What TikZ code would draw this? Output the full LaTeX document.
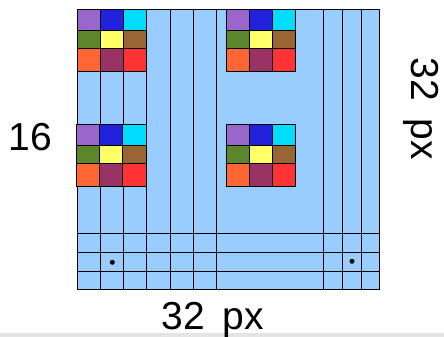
\documentclass[tikz,border=0pt]{standalone}
\usepackage{fontspec}
\setmainfont{Liberation Sans}
\definecolor{paneblue}{HTML}{99CCFF}
\definecolor{swA}{HTML}{9966CC}
\definecolor{swB}{HTML}{2222DD}
\definecolor{swC}{HTML}{00DDFF}
\definecolor{swD}{HTML}{5B862A}
\definecolor{swE}{HTML}{FFFF66}
\definecolor{swF}{HTML}{996633}
\definecolor{swG}{HTML}{FF6633}
\definecolor{swH}{HTML}{993366}
\definecolor{swI}{HTML}{FF3333}
\definecolor{bandgray}{HTML}{E4E4E4}
\tikzset{
  gridline/.style={draw=black, line width=0.9pt},
  lbl/.style={font=\fontsize{39}{41}\selectfont, inner sep=0pt},
  pics/swatch/.style={code={
    \foreach \c [count=\i from 0] in {swA,swB,swC}
      \fill[\c] ({23.1*\i},0) rectangle ({23.1*(\i+1)},20.7);
    \foreach \c [count=\i from 0] in {swD,swE,swF}
      \fill[\c] ({23.1*\i},20.7) rectangle ({23.1*(\i+1)},39);
    \foreach \c [count=\i from 0] in {swG,swH,swI}
      \fill[\c] ({23.1*\i},39) rectangle ({23.1*(\i+1)},62);
    \draw[gridline] (0,0) rectangle (69.3,62);
    \draw[gridline] (23.1,0) -- (23.1,62) (46.2,0) -- (46.2,62)
                    (0,20.7) -- (69.3,20.7) (0,39) -- (69.3,39);
  }}
}
\begin{document}
\begin{tikzpicture}[x=1pt,y=-1pt]
\useasboundingbox (0,0) rectangle (444,337);
\fill[bandgray] (0,332.5) rectangle (444,337);
% pane
\fill[paneblue] (77,9) rectangle (379.5,289);
\foreach \x in {100.3,123.3,146.7,170,193.3,216.7,323.3,342.3,361}
  \draw[gridline] (\x,9) -- (\x,289);
\foreach \y in {233.7,252.3,271}
  \draw[gridline] (77,\y) -- (379.5,\y);
\draw[gridline] (77,9) rectangle (379.5,289);
% swatches
\pic at (77,9.3) {swatch};
\pic at (226,9.3) {swatch};
\pic at (76.7,124.3) {swatch};
\pic at (226,124.3) {swatch};
% dots
\fill (112.3,262.3) circle[radius=2.5pt];
\fill (352,261.3) circle[radius=2.5pt];
% labels
\node[lbl, anchor=base] (bottomlbl) at (212.5,329) {32\hspace{0.45em}px};
\node[lbl, anchor=base] (leftlbl) at (30.3,150.7) {16};
\node[lbl, anchor=base, rotate=-90] (rightlbl) at (411.7,109) {32\hspace{0.45em}px};
\end{tikzpicture}
\end{document}
